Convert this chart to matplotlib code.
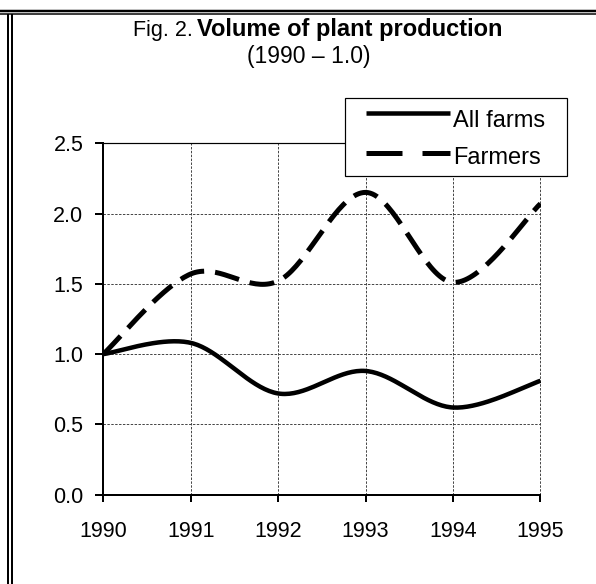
import numpy as np
import matplotlib.pyplot as plt
from matplotlib.lines import Line2D
from matplotlib.patches import Rectangle

plt.rcParams['font.family'] = ['Liberation Sans', 'DejaVu Sans']

# data
years = [1990, 1991, 1992, 1993, 1994, 1995]
all_farms = [1.00, 1.08, 0.72, 0.88, 0.62, 0.81]
farmers = [1.00, 1.57, 1.52, 2.15, 1.51, 2.07]
labels = ["All farms", "Farmers"]
yticks = [0.0, 0.5, 1.0, 1.5, 2.0, 2.5]

W, H = 596, 584
PX = 0.72  # points per pixel at dpi 100


def fx(p):
    return p / W


def fy(p):
    return 1 - p / H


def smooth(x, y, n=40):
    # excel style smoothed line (catmull-rom segments drawn as bezier)
    x = np.asarray(x, float)
    y = np.asarray(y, float)
    px = np.r_[x[0], x, x[-1]]
    py = np.r_[y[0], y, y[-1]]
    t = np.linspace(0, 1, n)
    xs, ys = [], []
    for i in range(1, len(px) - 2):
        p0 = np.array([px[i], py[i]])
        p3 = np.array([px[i + 1], py[i + 1]])
        c1 = p0 + (p3 - np.array([px[i - 1], py[i - 1]])) / 6
        c2 = p3 - (np.array([px[i + 2], py[i + 2]]) - p0) / 6
        b = ((1 - t) ** 3)[:, None] * p0 + (3 * (1 - t) ** 2 * t)[:, None] * c1 \
            + (3 * (1 - t) * t ** 2)[:, None] * c2 + (t ** 3)[:, None] * p3
        xs.append(b[:, 0])
        ys.append(b[:, 1])
    return np.concatenate(xs), np.concatenate(ys)


solid_style = dict(color='black', lw=4.5 * PX, solid_capstyle='butt')
dash_style = dict(color='black', lw=5 * PX, dash_capstyle='butt')

fig = plt.figure(figsize=(W / 100, H / 100), dpi=100)
ax = fig.add_axes([fx(103.3), fy(494.7), fx(540.5) - fx(103.3), fy(143.2) - fy(494.7)])

sx, sy = smooth(years, all_farms)
ax.plot(sx, sy, zorder=3, **solid_style)
sx, sy = smooth(years, farmers)
ax.plot(sx, sy, linestyle=(0, (5.0, 2.2)), zorder=3, **dash_style)

ax.set_xlim(years[0], years[-1])
ax.set_ylim(yticks[0], yticks[-1])
ax.set_xticks(years)
ax.set_yticks(yticks)
ax.set_yticklabels([f"{v:.1f}" for v in yticks])

ax.grid(True, color='#444444', linestyle=(0, (2.5, 1.5)), lw=0.7)
ax.set_axisbelow(True)

for s in ['left', 'bottom']:
    ax.spines[s].set_linewidth(2 * PX)
ax.spines['top'].set_linewidth(1.2 * PX)
ax.spines['right'].set_visible(False)

ax.tick_params(axis='x', direction='out', length=7 * PX, width=2 * PX, pad=14, labelsize=15.5)
ax.tick_params(axis='y', direction='out', length=8 * PX, width=2 * PX, pad=8.5, labelsize=15.5)

# legend box (drawn by hand to match the excel layout)
fig.add_artist(Rectangle((fx(345), fy(176)), fx(567) - fx(345), fy(98) - fy(176),
                         transform=fig.transFigure, facecolor='white', edgecolor='black',
                         lw=1.2 * PX, zorder=5))
fig.add_artist(Line2D([fx(366), fx(450)], [fy(113.3)] * 2, transform=fig.transFigure,
                      zorder=6, **solid_style))
fig.add_artist(Line2D([fx(366), fx(450)], [fy(153)] * 2, transform=fig.transFigure,
                      linestyle=(0, (7.2, 4.0)), zorder=6, **dash_style))
fig.text(fx(453), fy(126.7), labels[0], ha='left', va='baseline', fontsize=17, zorder=6)
fig.text(fx(453), fy(164), labels[1], ha='left', va='baseline', fontsize=17, zorder=6)

# title
fig.text(fx(193), fy(36), "Fig. 2.", ha='right', va='baseline', fontsize=15.5)
fig.text(fx(197), fy(36), "Volume of plant production", ha='left', va='baseline',
         fontsize=17, fontweight='bold')
fig.text(fx(309), fy(63.5), "(1990 \u2013 1.0)", ha='center', va='baseline', fontsize=16.5)

# page border (double lines on top and left)
fig.add_artist(Line2D([0, 1], [fy(11)] * 2, transform=fig.transFigure, color='black', lw=2.5 * PX))
fig.add_artist(Line2D([0, 1], [fy(14.3)] * 2, transform=fig.transFigure, color='black', lw=1.5 * PX))
fig.add_artist(Line2D([fx(8.3)] * 2, [0, fy(15)], transform=fig.transFigure, color='black', lw=2 * PX))
fig.add_artist(Line2D([fx(11.8)] * 2, [0, fy(15)], transform=fig.transFigure, color='black', lw=2 * PX))

fig.savefig('out.png', dpi=100)
